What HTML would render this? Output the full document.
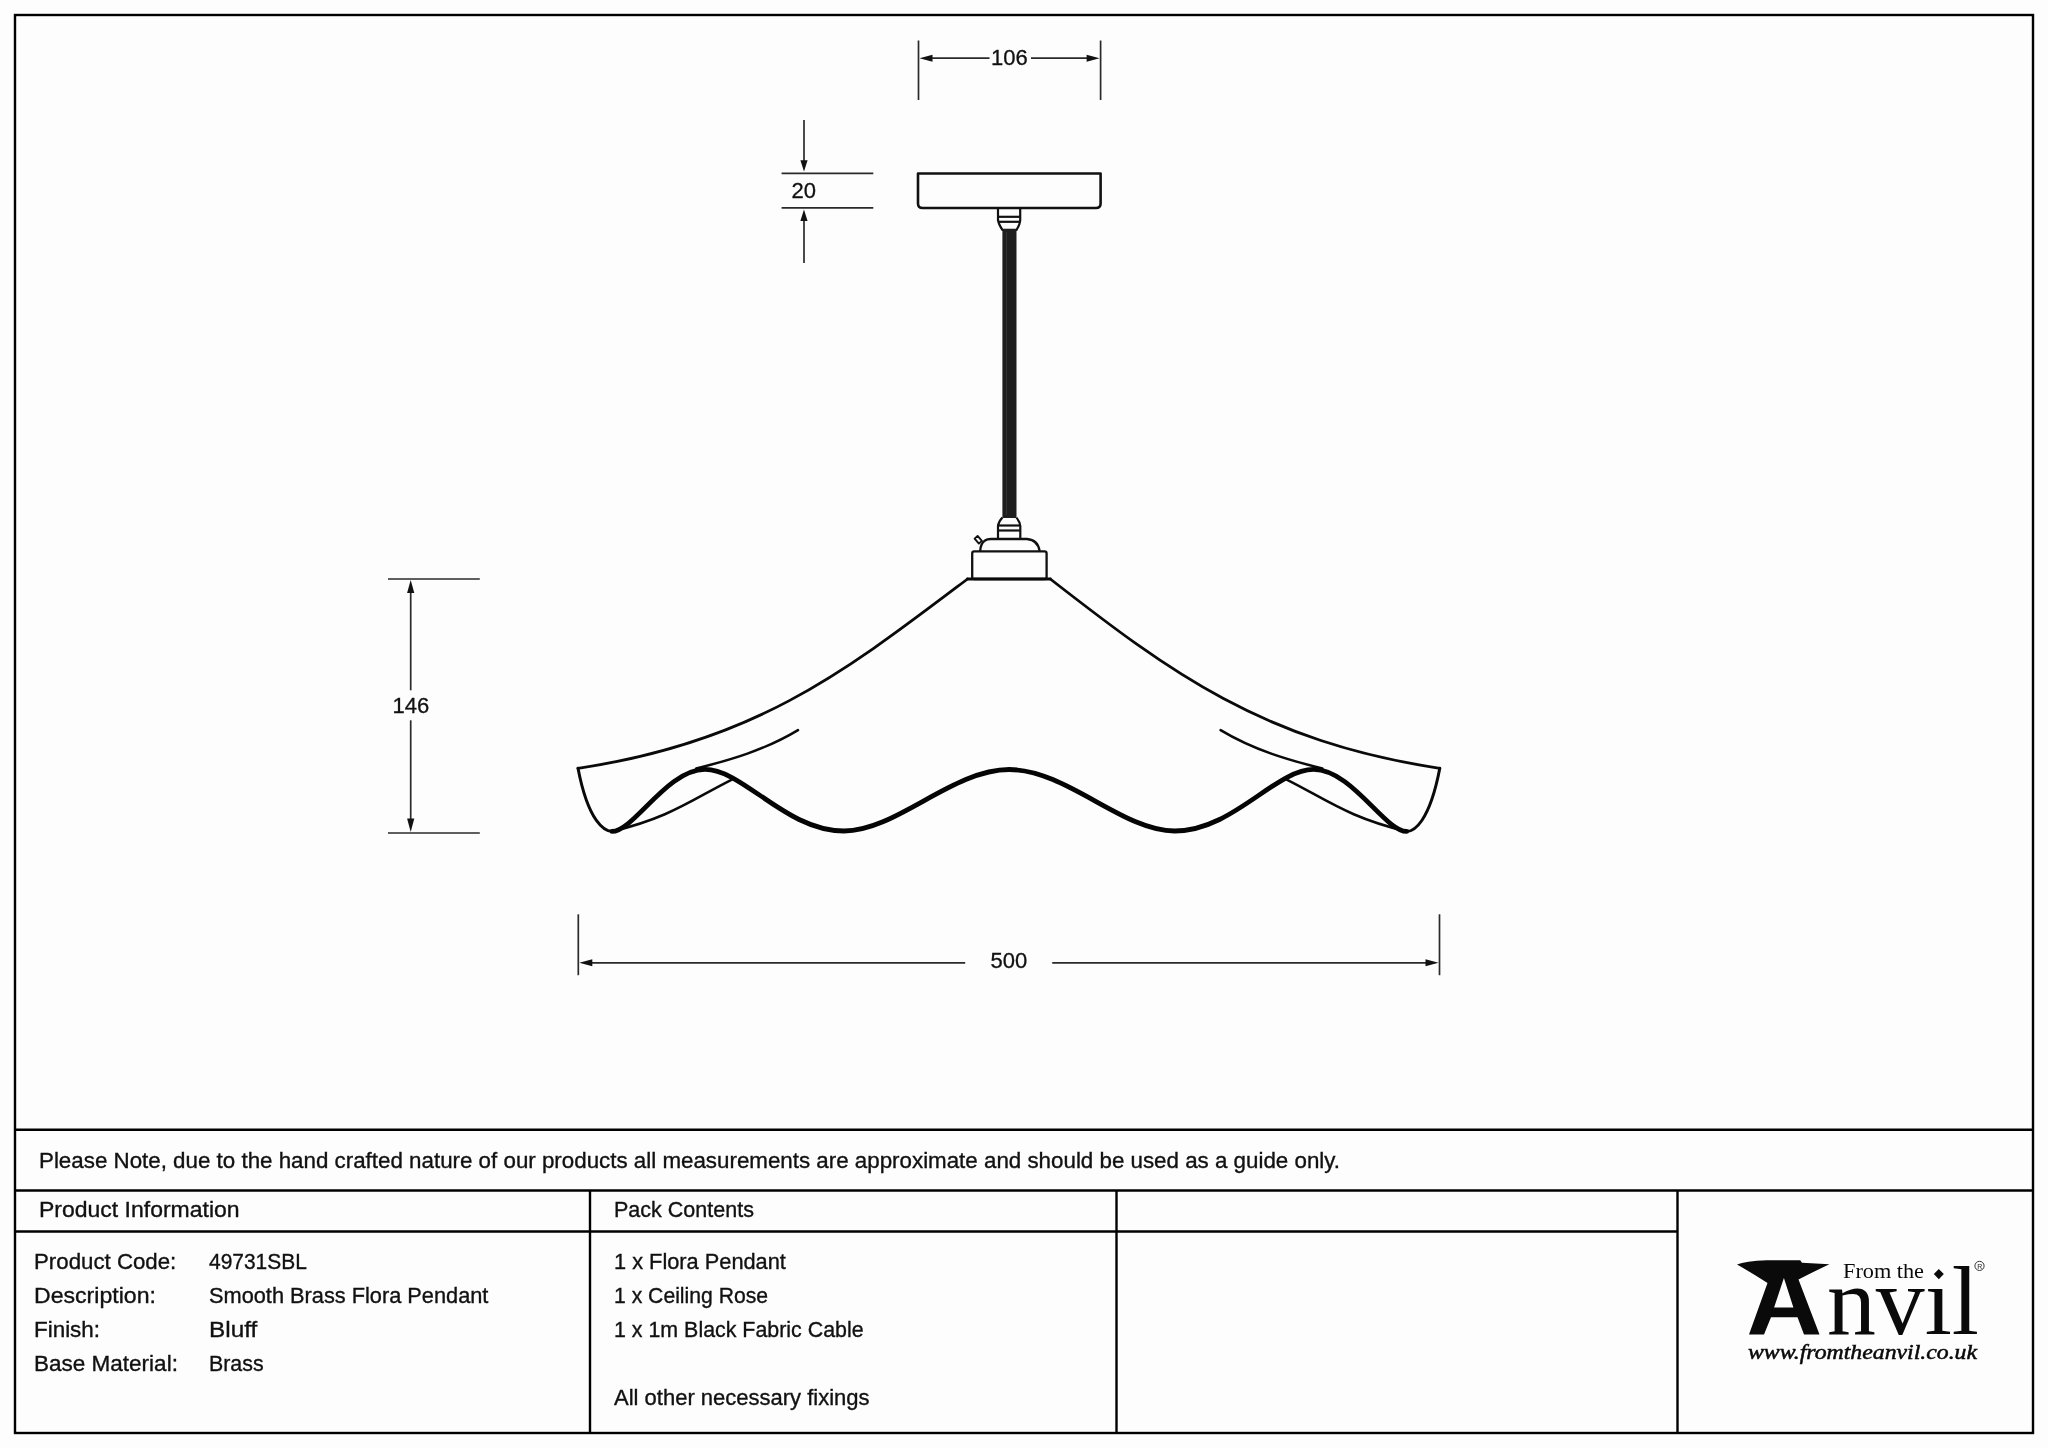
<!DOCTYPE html>
<html><head><meta charset="utf-8">
<style>
html,body{margin:0;padding:0;background:#fdfdfd;}
body{width:2048px;height:1448px;overflow:hidden;position:relative;}
svg{position:absolute;left:0;top:0;will-change:transform;}
.t{font-family:"Liberation Sans",sans-serif;font-size:22px;fill:#111;stroke:#111;stroke-width:0.35px;}
.d{font-family:"Liberation Sans",sans-serif;font-size:22px;fill:#111;stroke:#111;stroke-width:0.3px;}
</style></head>
<body>
<svg width="2048" height="1448" viewBox="0 0 2048 1448">
<!-- frame & table -->
<g fill="none" stroke="#000" stroke-width="2.4">
<rect x="15" y="15" width="2018" height="1418"/>
<line x1="15" y1="1129.7" x2="2033" y2="1129.7"/>
<line x1="15" y1="1190.5" x2="2033" y2="1190.5"/>
<line x1="15" y1="1231.5" x2="1677" y2="1231.5"/>
<line x1="590" y1="1190.5" x2="590" y2="1433"/>
<line x1="1116.5" y1="1190.5" x2="1116.5" y2="1433"/>
<line x1="1677.5" y1="1190.5" x2="1677.5" y2="1433"/>
</g>
<!-- table text -->
<g class="t" lengthAdjust="spacingAndGlyphs">
<text x="39" y="1167.5" textLength="1301" lengthAdjust="spacingAndGlyphs">Please Note, due to the hand crafted nature of our products all measurements are approximate and should be used as a guide only.</text>
<text x="39" y="1217" textLength="200.6" lengthAdjust="spacingAndGlyphs">Product Information</text>
<text x="614" y="1217" textLength="139.9" lengthAdjust="spacingAndGlyphs">Pack Contents</text>
<text x="34" y="1269" textLength="142.3" lengthAdjust="spacingAndGlyphs">Product Code:</text>
<text x="34" y="1303" textLength="121.9" lengthAdjust="spacingAndGlyphs">Description:</text>
<text x="34" y="1337" textLength="66" lengthAdjust="spacingAndGlyphs">Finish:</text>
<text x="34" y="1371" textLength="143.9" lengthAdjust="spacingAndGlyphs">Base Material:</text>
<text x="209" y="1269" textLength="97.8" lengthAdjust="spacingAndGlyphs">49731SBL</text>
<text x="209" y="1303" textLength="279.4" lengthAdjust="spacingAndGlyphs">Smooth Brass Flora Pendant</text>
<text x="209" y="1337" textLength="48.3" lengthAdjust="spacingAndGlyphs">Bluff</text>
<text x="209" y="1371" textLength="54.6" lengthAdjust="spacingAndGlyphs">Brass</text>
<text x="614" y="1269" textLength="171.9" lengthAdjust="spacingAndGlyphs">1 x Flora Pendant</text>
<text x="614" y="1303" textLength="154.1" lengthAdjust="spacingAndGlyphs">1 x Ceiling Rose</text>
<text x="614" y="1337" textLength="249.6" lengthAdjust="spacingAndGlyphs">1 x 1m Black Fabric Cable</text>
<text x="614" y="1405" textLength="255.6" lengthAdjust="spacingAndGlyphs">All other necessary fixings</text>
</g>

<!-- dimensions -->
<g stroke="#2a2a2a" stroke-width="1.7" fill="none">
<!-- 106 -->
<line x1="918.5" y1="40.5" x2="918.5" y2="100"/>
<line x1="1100.6" y1="40.5" x2="1100.6" y2="100"/>
<line x1="925" y1="58.2" x2="989.5" y2="58.2"/>
<line x1="1031" y1="58.2" x2="1094" y2="58.2"/>
<!-- 20 -->
<line x1="804" y1="120" x2="804" y2="165"/>
<line x1="804" y1="216" x2="804" y2="263"/>
<line x1="781.6" y1="173.3" x2="873.3" y2="173.3"/>
<line x1="781.6" y1="207.8" x2="873.3" y2="207.8"/>
<!-- 146 -->
<line x1="388" y1="579" x2="479.8" y2="579"/>
<line x1="388" y1="833" x2="479.8" y2="833"/>
<line x1="410.7" y1="588" x2="410.7" y2="690.3"/>
<line x1="410.7" y1="720.3" x2="410.7" y2="824"/>
<!-- 500 -->
<line x1="578.3" y1="914.3" x2="578.3" y2="975.2"/>
<line x1="1439.5" y1="914.3" x2="1439.5" y2="975.2"/>
<line x1="585" y1="962.8" x2="965.2" y2="962.8"/>
<line x1="1052.2" y1="962.8" x2="1433" y2="962.8"/>
</g>
<g fill="#111" stroke="none">
<polygon points="919.5,58.2 932.5,54.7 932.5,61.7"/>
<polygon points="1099.6,58.2 1086.6,54.7 1086.6,61.7"/>
<polygon points="804,171.5 800.4,160.3 807.6,160.3"/>
<polygon points="804,209.5 800.4,221 807.6,221"/>
<polygon points="410.7,580 407.1,593 414.3,593"/>
<polygon points="410.7,832 407.1,818.5 414.3,818.5"/>
<polygon points="579.3,962.8 592.3,959.3 592.3,966.3"/>
<polygon points="1438.5,962.8 1425.5,959.3 1425.5,966.3"/>
</g>
<g class="d">
<text x="991" y="64.6">106</text>
<text x="791.5" y="197.8">20</text>
<text x="392.5" y="713.3">146</text>
<text x="990.5" y="967.8">500</text>
</g>

<!-- ceiling rose -->
<g fill="none" stroke="#111" stroke-width="2.6" stroke-linejoin="round">
<path d="M918,173.5 H1100.6 V203.5 Q1100.6,208 1096,208 H922.5 Q918,208 918,203.5 Z"/>
</g>
<!-- top grip -->
<g fill="none" stroke="#111" stroke-width="2.2">
<path d="M998,208 V220 Q998.5,224 1002.4,229.8 H1016.5 Q1020.2,224 1020.2,220 V208"/>
<line x1="998.5" y1="216.8" x2="1019.7" y2="216.8"/>
<line x1="998.5" y1="221.8" x2="1019.7" y2="221.8"/>
</g>
<!-- cable -->
<rect x="1002.4" y="229" width="14.1" height="289" fill="#1e1e1e"/>
<line x1="1006.5" y1="232" x2="1006.5" y2="515" stroke="#3a3a3a" stroke-width="0.8"/>
<!-- bottom grip -->
<g fill="none" stroke="#111" stroke-width="2.2">
<path d="M1002.4,517.6 Q998.3,522 998,526.2 V539 M1016.5,517.6 Q1020,522 1020.3,526.2 V539"/>
<line x1="998.5" y1="525.5" x2="1019.8" y2="525.5"/>
<line x1="998.5" y1="530.5" x2="1019.8" y2="530.5"/>
</g>
<!-- lampholder dome -->
<g fill="none" stroke="#111" stroke-width="2.3" stroke-linejoin="round">
<path d="M980.2,551 Q980.5,543.5 985,540.5 Q987,539 991,539 H1027 Q1038,540 1039.6,551"/>
<rect x="972.2" y="551.4" width="74.4" height="27.6" rx="2" ry="2"/>
<path d="M974.6,538.6 L977.6,535.9 L981.9,540.9 L978.9,543.6 Z" stroke-width="1.9"/>
</g>

<!-- shade -->
<g fill="none" stroke="#0a0a0a" stroke-width="2.8" stroke-linecap="round" stroke-linejoin="round">
<line x1="967.5" y1="579" x2="1050.3" y2="579"/>
<path d="M967.5,579.0 C846.2,670.6 755.9,742.0 578.0,768.3"/>
<path d="M1050.3,579.0 C1170.1,672.3 1262.3,741.4 1439.8,768.3"/>
<path d="M578.0,768.3 C588.6,823.3 605.1,831.4 612.0,831.4" stroke-width="3"/>
<path d="M1439.8,768.3 C1429.2,823.3 1413.5,831.4 1406.8,831.4" stroke-width="3"/>
<path d="M612.0,831.4 C669.2,818.0 692.2,799.5 731.9,779.6" stroke-width="2.5"/>
<path d="M1406.6,831.4 C1349.4,818.0 1326.4,799.5 1286.7,779.6" stroke-width="2.5"/>
<path d="M696.2,768.5 C730,760 765,750 798.0,730.1" stroke-width="2.5"/>
<path d="M1322.4,768.5 C1288.6,760 1253.6,750 1220.6,730.1" stroke-width="2.5"/>
</g>
<path fill="none" stroke="#050505" stroke-width="4.8" stroke-linecap="round" d="M612.0,831.4 C633.6,831.4 667.1,769.4 705.0,769.4 C743.3,769.4 785.7,831.0 844.0,831.0 C896.1,831.0 952.3,769.5 1009.3,769.5 C1066.3,769.5 1122.5,831.0 1174.6,831.0 C1232.9,831.0 1275.3,769.4 1313.6,769.4 C1351.5,769.4 1385.0,831.4 1406.6,831.4"/>

<!-- logo -->
<g fill="#0a0a0a">
<path d="M1737,1264.5 Q1745,1261 1767,1260.3 L1800.2,1260.3 L1802,1262.7 L1829.4,1264.2 Q1815,1271 1798.5,1279.5 L1819.5,1334.4 L1804,1334.4 L1797.5,1317.2 L1771,1317.2 L1764,1334.4 L1749,1334.4 L1767.5,1283 Q1752,1273 1737,1264.5 Z M1783.9,1278 L1774.1,1307.5 L1793.4,1307.5 Z" fill-rule="evenodd"/>
<text x="1827" y="1334.4" font-family="Liberation Serif" font-size="98" textLength="152" lengthAdjust="spacingAndGlyphs">nvıl</text>
<polygon points="1938.8,1269 1943.8,1274.1 1938.8,1279.2 1933.8,1274.1"/>
<text x="1843" y="1278.2" font-family="Liberation Serif" font-size="21" textLength="81" lengthAdjust="spacingAndGlyphs">From the</text>
<text x="1748" y="1358.5" font-family="Liberation Serif" font-style="italic" font-size="20.5" stroke="#0a0a0a" stroke-width="0.5" textLength="229" lengthAdjust="spacingAndGlyphs">www.fromtheanvil.co.uk</text>
</g>
<g>
<circle cx="1979.5" cy="1265.9" r="4.6" fill="none" stroke="#222" stroke-width="0.9"/>
<text x="1977.2" y="1268.6" font-family="Liberation Sans" font-size="7" fill="#222">R</text>
</g>
</svg>
</body></html>
